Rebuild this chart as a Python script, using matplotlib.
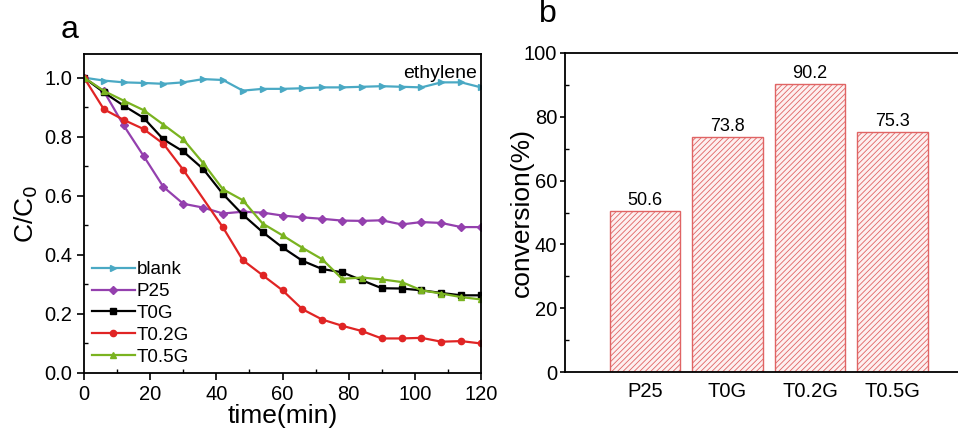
import numpy as np
import matplotlib
matplotlib.use("Agg")
import matplotlib.pyplot as plt
from matplotlib.ticker import MultipleLocator

plt.rcParams['font.family'] = ['Liberation Sans', 'DejaVu Sans']
plt.rcParams['hatch.linewidth'] = 0.6

# sampling times (min)
time = [0, 6, 12, 18, 24, 30, 36, 42, 48, 54, 60, 66, 72, 78, 84, 90, 96, 102, 108, 114, 120]

blank = [1.0, 0.990, 0.984, 0.982, 0.979, 0.984, 0.995, 0.992, 0.956, 0.962, 0.962,
         0.964, 0.967, 0.967, 0.969, 0.971, 0.969, 0.967, 0.984, 0.984, 0.967]
p25 = [1.0, 0.954, 0.838, 0.735, 0.630, 0.573, 0.560, 0.540, 0.546, 0.543, 0.533,
       0.527, 0.522, 0.516, 0.515, 0.517, 0.503, 0.511, 0.508, 0.494, 0.494]
t0g = [1.0, 0.950, 0.905, 0.864, 0.791, 0.750, 0.691, 0.606, 0.536, 0.477, 0.425,
       0.380, 0.352, 0.341, 0.314, 0.287, 0.286, 0.280, 0.271, 0.263, 0.263]
t05g = [1.0, 0.955, 0.922, 0.890, 0.841, 0.791, 0.711, 0.622, 0.585, 0.506, 0.466,
        0.424, 0.385, 0.319, 0.323, 0.317, 0.308, 0.280, 0.269, 0.257, 0.249]
# T0.2G has no sample at 36 min
time_02 = [0, 6, 12, 18, 24, 30, 42, 48, 54, 60, 66, 72, 78, 84, 90, 96, 102, 108, 114, 120]
t02g = [1.0, 0.893, 0.857, 0.826, 0.776, 0.688, 0.493, 0.382, 0.331, 0.280, 0.216,
        0.181, 0.160, 0.142, 0.117, 0.117, 0.119, 0.106, 0.108, 0.100]

samples = ['P25', 'T0G', 'T0.2G', 'T0.5G']
conversion = [50.6, 73.8, 90.2, 75.3]

fig = plt.figure(figsize=(9.58, 4.33), dpi=100)
W, H = 958, 433
ax1 = fig.add_axes([84 / W, 60 / H, 397 / W, 319 / H])
ax2 = fig.add_axes([565 / W, 61 / H, 410 / W, 319 / H])

# --- panel a: C/C0 curves
series = [
    (time, blank, 'blank', '#4aa9c4', '>'),
    (time, p25, 'P25', '#9440ae', 'D'),
    (time, t0g, 'T0G', 'black', 's'),
    (time_02, t02g, 'T0.2G', '#e02424', 'o'),
    (time, t05g, 'T0.5G', '#7ab320', '^'),
]
for t, v, lab, c, m in series:
    ax1.plot(t, v, color=c, marker=m, markersize=4.5, linewidth=1.6, label=lab)

ax1.set_xlim(0, 120)
ax1.set_ylim(0, 1.08)
ax1.xaxis.set_major_locator(MultipleLocator(20))
ax1.xaxis.set_minor_locator(MultipleLocator(10))
ax1.yaxis.set_major_locator(MultipleLocator(0.2))
ax1.yaxis.set_minor_locator(MultipleLocator(0.1))
ax1.yaxis.set_major_formatter(matplotlib.ticker.FormatStrFormatter('%.1f'))
ax1.set_xlabel('time(min)', fontsize=19, labelpad=0)
ax1.set_ylabel('C/C$_0$', fontsize=19, labelpad=3)
ax1.text(0.99, 0.965, 'ethylene', transform=ax1.transAxes, ha='right', va='top', fontsize=14)
ax1.legend(loc='lower left', frameon=False, fontsize=13.5, handlelength=2.3,
           handletextpad=0.1, labelspacing=0.25, borderaxespad=0.0,
           bbox_to_anchor=(0.0, 0.0))
fig.text(70 / W, 1 - 30 / H, 'a', fontsize=23, ha='center', va='center')

# --- panel b: conversion bars
pos = np.arange(1, len(samples) + 1)
bars = ax2.bar(pos, conversion, width=0.85, facecolor='#fdf0f0', edgecolor='#e06464',
               hatch='//////', linewidth=1.0)
for b, val in zip(bars, conversion):
    ax2.text(b.get_x() + b.get_width() / 2, val + 0.6, f'{val:.1f}',
             ha='center', va='bottom', fontsize=13)
ax2.set_xlim(0.03, 5.0)
ax2.set_ylim(0, 100)
ax2.set_xticks(pos)
ax2.set_xticklabels(samples)
ax2.yaxis.set_major_locator(MultipleLocator(20))
ax2.yaxis.set_minor_locator(MultipleLocator(10))
ax2.set_ylabel('conversion(%)', fontsize=19)
ax2.yaxis.set_label_coords(-0.076, 0.5)
fig.text(548 / W, 1 - 14 / H, 'b', fontsize=23, ha='center', va='center')

for ax in (ax1, ax2):
    for s in ax.spines.values():
        s.set_linewidth(1.3)
    ax.tick_params(which='major', direction='out', length=5, width=1.2, labelsize=14.5)
    ax.tick_params(which='minor', direction='in', length=3, width=1.0)
ax2.tick_params(axis='y', which='major', length=3.5, pad=2)
ax2.tick_params(axis='x', which='both', length=0, pad=7)

fig.savefig('out.png', dpi=100)
